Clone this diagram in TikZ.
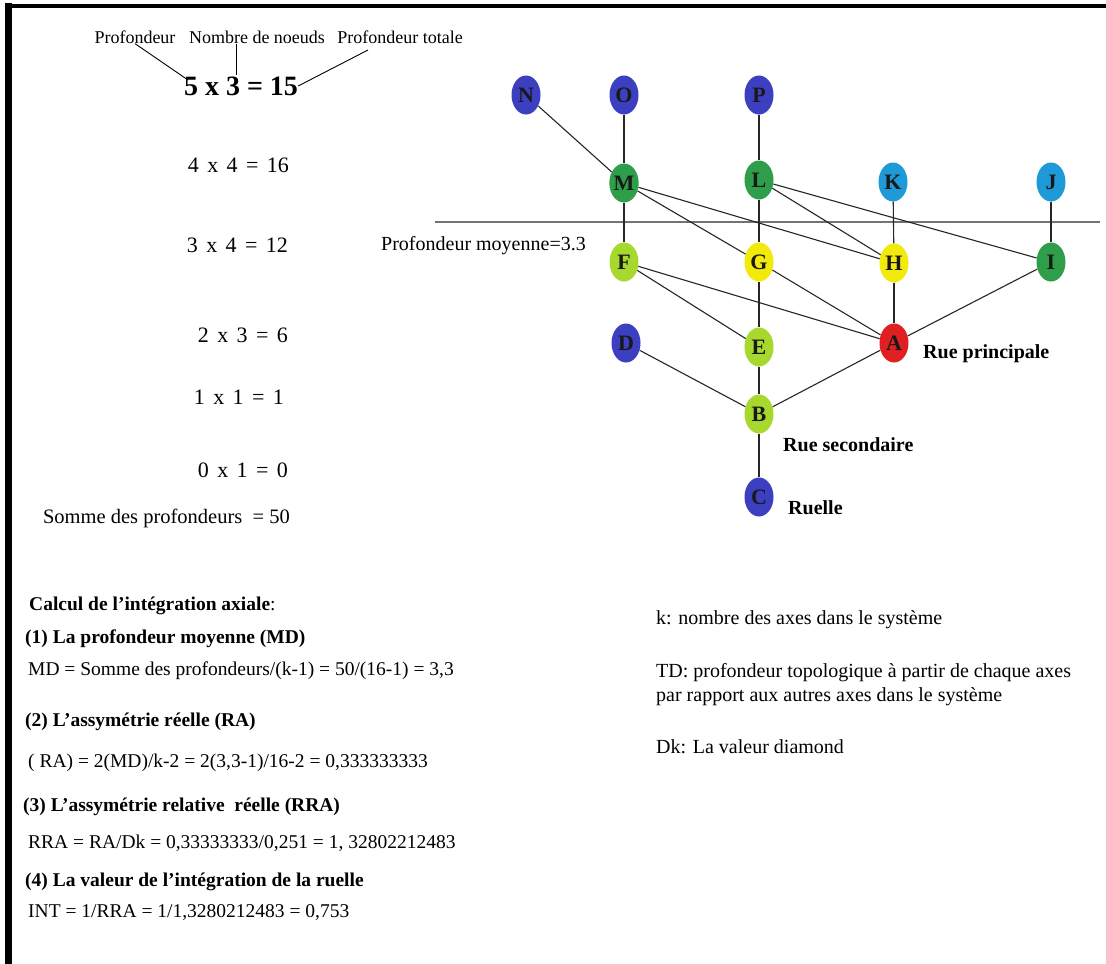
\documentclass[tikz,border=0pt]{standalone}
\usepackage{fontspec}
\setmainfont{Liberation Serif}
\usepackage{xcolor}
\usepackage{tikz}
\usetikzlibrary{shapes.geometric}
\definecolor{axblue}{HTML}{3B3FC0}
\definecolor{axcyan}{HTML}{1E9AD8}
\definecolor{axgreen}{HTML}{2E9E4A}
\definecolor{axlime}{HTML}{A6D82E}
\definecolor{axyellow}{HTML}{F2EA0A}
\definecolor{axred}{HTML}{E02020}
\newcommand{\eqgap}{\hspace{0.38em}}
\tikzset{
  axnode/.style={ellipse,minimum width=29pt,minimum height=39pt,inner sep=0pt,text=black!90,font=\fontsize{22}{22}\selectfont\bfseries},
  bluenode/.style={axnode,fill=axblue},
  cyannode/.style={axnode,fill=axcyan},
  greennode/.style={axnode,fill=axgreen},
  limenode/.style={axnode,fill=axlime},
  yellownode/.style={axnode,fill=axyellow},
  rednode/.style={axnode,fill=axred},
  axedge/.style={line width=1.1pt,black!85},
  ptredge/.style={line width=0.9pt,black},
  depthtxt/.style={anchor=east,inner sep=0pt,font=\fontsize{22}{24}\selectfont},
  calctxt/.style={anchor=west,inner sep=0pt,font=\fontsize{19.5}{24}\selectfont},
  streettxt/.style={anchor=west,inner sep=0pt,font=\fontsize{20}{24}\selectfont\bfseries},
}

\begin{document}
\begin{tikzpicture}[x=1pt,y=-1pt]
  \useasboundingbox (0,0) rectangle (1106,964);
  \fill[white] (0,0) rectangle (1106,964);
  % frame
  \draw[line width=7pt] (8.5,964) -- (8.5,2.5);
  \draw[line width=4.5pt] (5,6) -- (1106,6);

  % depth counts
  \node[inner sep=0pt,font=\fontsize{18}{20}\selectfont] (lbldepth) at (135,37) {Profondeur};
  \node[inner sep=0pt,font=\fontsize{18}{20}\selectfont] (lblnodes) at (257,37) {Nombre de noeuds};
  \node[inner sep=0pt,font=\fontsize{18}{20}\selectfont] (lbltotal) at (400,37) {Profondeur totale};
  \node[inner sep=0pt,font=\fontsize{28}{30}\selectfont\bfseries] (eqfive) at (241,86) {5 x 3 = 15};
  \coordinate (tipdepth) at (188,80);
  \coordinate (tipnodes) at (236,75);
  \coordinate (tiptotal) at (368,50);
  \draw[ptredge] (lbldepth.south) -- (tipdepth);
  \draw[ptredge] (lblnodes.south -| tipnodes) -- (tipnodes);
  \draw[ptredge] (eqfive.east) -- (tiptotal);
  \node[depthtxt] (eqfour) at (289,165) {4\eqgap x\eqgap 4\eqgap =\eqgap 16};
  \node[depthtxt] (eqthree) at (288,245) {3\eqgap x\eqgap 4\eqgap =\eqgap 12};
  \node[depthtxt] (eqtwo) at (288,335) {2\eqgap x\eqgap 3\eqgap =\eqgap 6};
  \node[depthtxt] (eqone) at (284,397) {1\eqgap x\eqgap 1\eqgap =\eqgap 1};
  \node[depthtxt] (eqzero) at (288,470) {0\eqgap x\eqgap 1\eqgap =\eqgap 0};
  \node[depthtxt,font=\fontsize{20.5}{24}\selectfont] (eqsum) at (290,518) {Somme des profondeurs \ = 50};

  % mean depth line
  \draw[line width=1.3pt,black!55] (435,222) -- (1100,222);
  \node[anchor=west,inner sep=0pt,font=\fontsize{20}{24}\selectfont] (lblmean) at (381,246) {Profondeur moyenne=3.3};

  % axes
  \node[bluenode] (nN) at (526,95) {N};
  \node[bluenode] (nO) at (624,95) {O};
  \node[bluenode] (nP) at (759,95) {P};
  \node[greennode] (nM) at (624,183) {M};
  \node[greennode] (nL) at (759,180) {L};
  \node[cyannode] (nK) at (893,182) {K};
  \node[cyannode] (nJ) at (1051,182) {J};
  \node[limenode] (nF) at (624,262) {F};
  \node[yellownode] (nG) at (759,262) {G};
  \node[yellownode] (nH) at (894,263) {H};
  \node[greennode] (nI) at (1051,262) {I};
  \node[bluenode] (nD) at (626,343) {D};
  \node[limenode] (nE) at (759,347) {E};
  \node[rednode] (nA) at (894,343) {A};
  \node[limenode] (nB) at (759,414) {B};
  \node[bluenode] (nC) at (759,497) {C};
  \draw[axedge] (nN) -- (nM);
  \draw[axedge] (nO) -- (nM);
  \draw[axedge] (nP) -- (nL);
  \draw[axedge] (nM) -- (nF);
  \draw[axedge] (nM) -- (nG);
  \draw[axedge] (nM) -- (nH);
  \draw[axedge] (nL) -- (nG);
  \draw[axedge] (nL) -- (nH);
  \draw[axedge] (nL) -- (nI);
  \draw[axedge] (nK) -- (nH);
  \draw[axedge] (nJ) -- (nI);
  \draw[axedge] (nF) -- (nE);
  \draw[axedge] (nF) -- (nA);
  \draw[axedge] (nG) -- (nE);
  \draw[axedge] (nG) -- (nA);
  \draw[axedge] (nH) -- (nA);
  \draw[axedge] (nI) -- (nA);
  \draw[axedge] (nD) -- (nB);
  \draw[axedge] (nE) -- (nB);
  \draw[axedge] (nA) -- (nB);
  \draw[axedge] (nB) -- (nC);
  \node[streettxt] (lblmain) at (923,354) {Rue principale};
  \node[streettxt] (lblsecond) at (783,445) {Rue secondaire};
  \node[streettxt] (lblalley) at (788,508) {Ruelle};

  % calculation
  \node[calctxt] (calchead) at (29,606) {\textbf{Calcul de l'intégration axiale}:};
  \node[calctxt] (stepone) at (25,639) {\textbf{(1) La profondeur moyenne (MD)}};
  \node[calctxt] (calcmd) at (28,671) {MD = Somme des profondeurs/(k-1) = 50/(16-1) = 3,3};
  \node[calctxt] (steptwo) at (25,722) {\textbf{(2) L'assymétrie réelle (RA)}};
  \node[calctxt] (calcra) at (28,763) {( RA) = 2(MD)/k-2 = 2(3,3-1)/16-2 = 0,333333333};
  \node[calctxt] (stepthree) at (23,807) {\textbf{(3) L'assymétrie relative \ réelle (RRA)}};
  \node[calctxt] (calcrra) at (28,843) {RRA = RA/Dk = 0,33333333/0,251 = 1, 32802212483};
  \node[calctxt] (stepfour) at (25,882) {\textbf{(4) La valeur de l'intégration de la ruelle}};
  \node[calctxt] (calcint) at (28,913) {INT = 1/RRA = 1/1,3280212483 = 0,753};

  % notes
  \node[calctxt,font=\fontsize{20}{24}\selectfont] (notek) at (656,620) {k: nombre des axes dans le système};
  \node[calctxt,align=left,font=\fontsize{20}{24}\selectfont] (notetd) at (656,685) {TD: profondeur topologique à partir de chaque axes\\par rapport aux autres axes dans le système};
  \node[calctxt,font=\fontsize{20}{24}\selectfont] (notedk) at (656,747) {Dk: La valeur diamond};
\end{tikzpicture}
\end{document}
